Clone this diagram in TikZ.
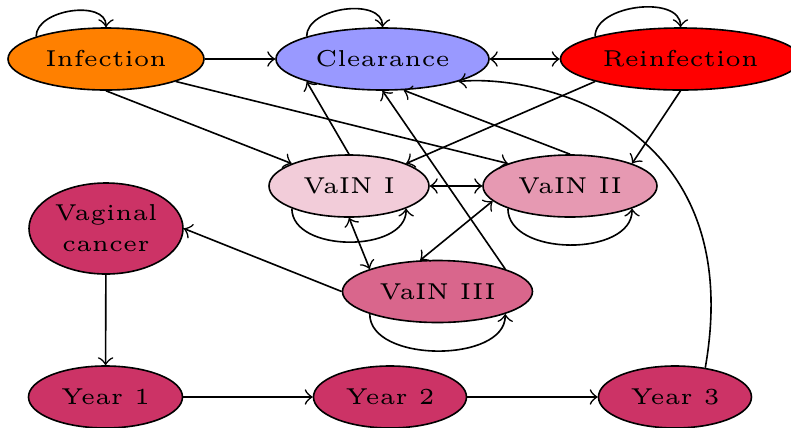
\documentclass[tikz,border=0pt]{standalone}
\usetikzlibrary{shapes.geometric}
\definecolor{cancer}{RGB}{204,51,102}
% one unit of the grid below, also used for node sizes
\def\pxs{0.2174pt}
\tikzset{
  stnode/.style={ellipse, draw, inner sep=0pt, font=\tiny,
    minimum height={62*\pxs}},
  wide/.style={minimum width={#1*\pxs}},
  conn/.style={->},
  both/.style={<->},
}
\begin{document}
\begin{tikzpicture}[x=\pxs, y=\pxs, line width=0.35pt]
\useasboundingbox (0,0) rectangle (791,427);

% top row
\node[stnode, wide=196, fill=orange]  (inf)  at (106,368)   {Infection};
\node[stnode, wide=213, fill=blue!40] (cl)   at (382.5,368) {Clearance};
\node[stnode, wide=240, fill=red]     (rein) at (680.5,368) {Reinfection};

% lesion grades
\node[stnode, wide=160, fill=cancer!25] (v1) at (349,241)   {VaIN I};
\node[stnode, wide=174, fill=cancer!50] (v2) at (570,241)   {VaIN II};
\node[stnode, wide=190, fill=cancer!75] (v3) at (437.5,135.5) {VaIN III};

% cancer and follow-up years
\node[stnode, wide=154, minimum height={91*\pxs}, fill=cancer,
      align=center, font=\fontsize{5}{6.7}\selectfont] (vc) at (106,198.5) {Vaginal\\cancer};
\node[stnode, wide=154, fill=cancer] (y1) at (105.5,30) {Year 1};
\node[stnode, wide=153, fill=cancer] (y2) at (390,30)   {Year 2};
\node[stnode, wide=153, fill=cancer] (y3) at (675,30)   {Year 3};

% self loops
\draw[conn] (inf.north west)  to[out=90,in=90,looseness=1]     (inf.north);
\draw[conn] (cl.north west)   to[out=90,in=90,looseness=1]     (cl.north);
\draw[conn] (rein.north west) to[out=90,in=90,looseness=0.96]  (rein.north);
\draw[conn] (v1.south west)   to[out=-90,in=-90,looseness=1]   (v1.south east);
\draw[conn] (v2.south west)   to[out=-90,in=-90,looseness=1]   (v2.south east);
\draw[conn] (v3.south west)   to[out=-90,in=-90,looseness=0.93] (v3.south east);

% transitions
\draw[conn] (inf) -- (cl);
\draw[both] (cl) -- (rein);
\draw[conn] (inf.south) -- (v1);
\draw[conn] (inf.south east) -- (v2.north west);
\draw[conn] (rein.south west) -- (v1.north east);
\draw[conn] (rein.south) -- (v2.north east);
\draw[conn] (v1.north) -- (cl.south west);
\draw[conn] (v2.north) -- (cl.-56);
\draw[conn] (v3.north east) -- (cl.south);
\draw[both] (v1) -- (v2);
\draw[both] (v1.south) -- (v3.north west);
\draw[both] (v2.191) -- (v3.119);
\draw[conn] (v3.west) -- (vc.east);
\draw[conn] (vc) -- (y1);
\draw[conn] (y1) -- (y2);
\draw[conn] (y2) -- (y3);
\draw[conn] (y3.44) .. controls (748.5,306) and (537.7,353) .. (cl.south east);
\end{tikzpicture}
\end{document}
